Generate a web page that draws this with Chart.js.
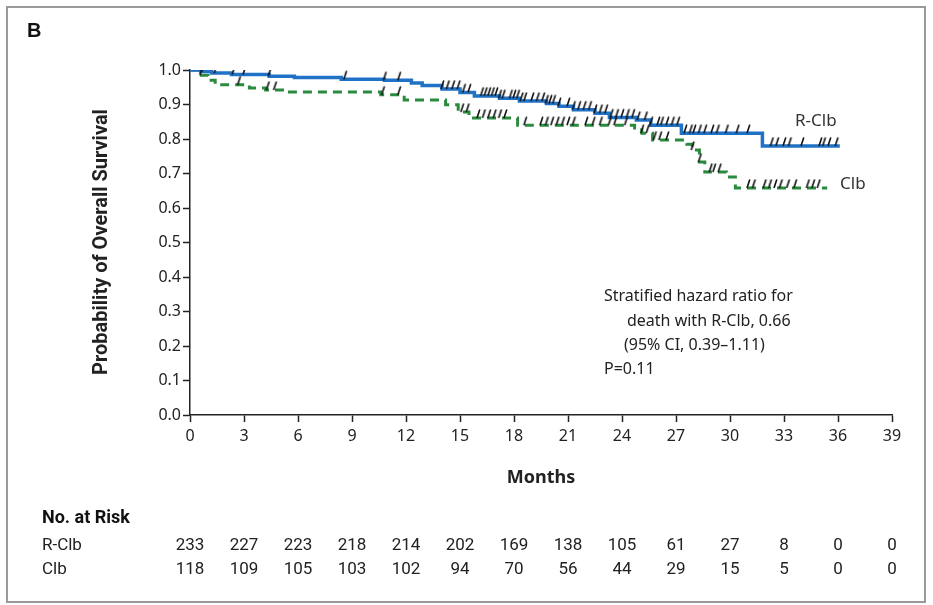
<!DOCTYPE html>
<html>
<head>
<meta charset="utf-8">
<script src="https://cdn.jsdelivr.net/npm/chart.js@4.4.1/dist/chart.umd.min.js"></script>
<style>
html,body{margin:0;padding:0;background:#fff;}
#wrap{width:933px;height:605px;position:relative;}
</style>
</head>
<body>
<div id="wrap"><canvas id="c" width="933" height="605"></canvas></div>
<script>
// ---- data ----
const xTicks = [0,3,6,9,12,15,18,21,24,27,30,33,36,39];
const rclbTimes = [0,0.6,1.2,2.3,4.4,5.8,8.4,10.8,12.3,12.9,14.0,15.0,15.8,17.2,18.3,19.8,20.5,21.3,22.5,23.3,24.8,25.6,27.3,31.8,36.1];
const rclbSurv  = [1.0,0.996,0.991,0.987,0.982,0.978,0.973,0.970,0.962,0.955,0.945,0.935,0.925,0.918,0.910,0.903,0.895,0.885,0.875,0.862,0.855,0.840,0.817,0.780,0.780];
const clbTimes  = [0,0.5,1.0,1.4,3.3,4.2,5.3,10.6,11.9,14.2,14.9,15.5,18.2,24.7,25.1,25.7,27.6,27.9,28.3,28.6,29.8,30.3,35.4];
const clbSurv   = [1.0,0.985,0.97,0.957,0.948,0.942,0.936,0.928,0.913,0.899,0.878,0.861,0.840,0.832,0.817,0.797,0.785,0.768,0.733,0.704,0.690,0.658,0.658];
const rclbCensor = [0.3,0.5,0.7,1.4,2.4,3.0,4.4,8.6,10.8,11.6,14.0,14.3,14.6,14.9,15.2,15.5,16.2,16.4,16.6,16.8,17.0,17.2,17.4,17.8,18.0,18.2,18.4,18.6,19.0,19.3,19.6,19.8,20.0,20.2,20.5,21.0,21.3,21.6,21.9,22.2,22.5,22.8,23.1,23.4,23.7,24.0,24.3,24.6,24.9,25.3,25.6,26.0,26.2,26.5,26.8,27.1,27.5,27.8,28.0,28.3,28.6,29.0,29.3,29.8,30.4,31.0,32.3,32.6,33.0,33.3,34.0,35.0,35.2,35.5,35.9];
const clbCensor  = [0.4,0.6,2.7,4.3,4.7,10.7,11.6,15.1,15.4,16.0,16.3,16.6,16.9,17.2,17.5,18.6,19.5,19.8,20.1,20.4,20.7,21.0,21.3,22.0,22.4,22.8,23.3,23.6,24.2,25.1,25.4,25.8,26.1,26.5,27.9,28.3,28.9,29.1,29.4,31.0,31.3,31.9,32.2,32.5,32.8,33.2,33.6,34.3,34.6,34.9];
const riskRclb = [233,227,223,218,214,202,169,138,105,61,27,8,0,0];
const riskClb  = [118,109,105,103,102,94,70,56,44,29,15,5,0,0];
const seriesNames = ['R-Clb','Clb'];
const hazardText = ['Stratified hazard ratio for','death with R-Clb, 0.66','(95% CI, 0.39\u20131.11)','P=0.11'];

// ---- helpers ----
function pts(t, s){ return t.map((x,i)=>({x:x,y:s[i]})); }
function survAt(t, times, surv){ let v = surv[0]; for(let i=0;i<times.length;i++){ if(times[i]<=t) v = surv[i]; } return v; }
function censorPts(c, times, surv){ return c.map(x=>({x:x,y:survAt(x,times,surv)})); }
function tickImg(){
  const cv=document.createElement('canvas'); cv.width=8; cv.height=20;
  const g=cv.getContext('2d'); g.strokeStyle='#111'; g.lineWidth=1.6;
  g.beginPath(); g.moveTo(3,10); g.lineTo(5.8,1.5); g.stroke();
  return cv;
}
const tk = tickImg();

const BLUE='#1f72c6', GREEN='#2a8a3e';
const TXT='#222';
const narrow = '"Liberation Sans Narrow", "Roboto", sans-serif';
const regular = '"Noto Sans", "Open Sans", sans-serif';

const deco = {
  id:'deco',
  beforeDraw(chart){
    const ctx=chart.ctx; ctx.save();
    ctx.fillStyle='#fff'; ctx.fillRect(0,0,chart.width,chart.height);
    ctx.restore();
  },
  afterDraw(chart){
    const ctx=chart.ctx, xs=chart.scales.x;
    ctx.save();
    // frame
    ctx.strokeStyle='#9a9a9a'; ctx.lineWidth=2;
    ctx.strokeRect(7,7,918,595);
    // panel letter
    ctx.fillStyle='#111'; ctx.font='bold 20px "Liberation Sans", sans-serif';
    ctx.textBaseline='middle'; ctx.textAlign='left';
    ctx.fillText('B',27,31);
    // y title
    ctx.save();
    ctx.translate(102,242); ctx.rotate(-Math.PI/2);
    ctx.font='bold 20px '+narrow; ctx.textAlign='center'; ctx.fillStyle=TXT;
    ctx.fillText('Probability of Overall Survival',0,0);
    ctx.restore();
    // x title
    ctx.font='bold 18px '+regular; ctx.textAlign='center'; ctx.fillStyle=TXT;
    ctx.fillText('Months', xs.getPixelForValue(19.5), 478);
    // series labels
    ctx.font='17px '+regular; ctx.textAlign='left'; ctx.fillStyle='#333';
    ctx.fillText(seriesNames[0], 795, 121);
    ctx.fillText(seriesNames[1], 840, 184);
    // hazard text
    ctx.font='16px '+regular; ctx.fillStyle=TXT;
    ctx.fillText(hazardText[0], 604, 296);
    ctx.fillText(hazardText[1], 627, 321);
    ctx.fillText(hazardText[2], 624, 345);
    ctx.fillText(hazardText[3], 604, 369);
    // risk table
    ctx.font='bold 18px '+narrow; ctx.fillStyle='#111';
    ctx.fillText('No. at Risk', 42, 518);
    ctx.font='17px '+narrow; ctx.fillStyle=TXT;
    ctx.fillText(seriesNames[0], 42, 546);
    ctx.fillText(seriesNames[1], 42, 570);
    ctx.textAlign='center';
    xTicks.forEach((t,i)=>{
      const px=xs.getPixelForValue(t);
      ctx.fillText(String(riskRclb[i]), px, 546);
      ctx.fillText(String(riskClb[i]), px, 570);
    });
    ctx.restore();
  }
};

new Chart(document.getElementById('c'), {
  type:'line',
  data:{ datasets:[
    {label:'R-Clb', data:pts(rclbTimes,rclbSurv), stepped:true, borderColor:BLUE, borderWidth:3.5, pointRadius:0, fill:false, order:2},
    {label:'Clb', data:pts(clbTimes,clbSurv), stepped:true, borderColor:GREEN, borderWidth:3, borderDash:[9,6], pointRadius:0, fill:false, order:3},
    {type:'scatter', label:'R-Clb censored', data:censorPts(rclbCensor,rclbTimes,rclbSurv), pointStyle:tk, pointRadius:4, showLine:false, order:0},
    {type:'scatter', label:'Clb censored', data:censorPts(clbCensor,clbTimes,clbSurv), pointStyle:tk, pointRadius:4, showLine:false, order:1}
  ]},
  options:{
    responsive:false, animation:false,
    layout:{padding:{left:0, top:70, right:41, bottom:110}},
    plugins:{legend:{display:false}, tooltip:{enabled:false}},
    scales:{
      x:{type:'linear', min:0, max:39,
         afterFit(s){ s.height=80; },
         afterBuildTicks(s){ s.ticks = xTicks.map(v=>({value:v})); },
         ticks:{font:{size:16, family:regular}, color:TXT, padding:5, maxRotation:0, autoSkip:false},
         grid:{drawOnChartArea:false, drawTicks:true, tickLength:7, tickColor:'#222', tickWidth:1.5},
         border:{display:true, color:'#222', width:1.5}},
      y:{type:'linear', min:0, max:1,
         afterFit(s){ s.width=190; },
         ticks:{stepSize:0.1, font:{size:16, family:regular}, color:TXT, padding:2, callback:v=>v.toFixed(1)},
         grid:{drawOnChartArea:false, drawTicks:true, tickLength:7, tickColor:'#222', tickWidth:1.5},
         border:{display:true, color:'#222', width:1.5}}
    }
  },
  plugins:[deco]
});
</script>
</body>
</html>
